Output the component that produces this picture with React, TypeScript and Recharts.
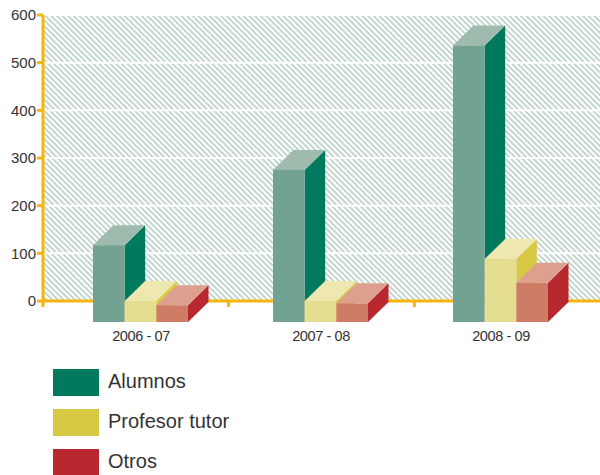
import React from 'react';
import { BarChart, Bar, XAxis, YAxis, CartesianGrid } from 'recharts';

const categories = ['2006 - 07', '2007 - 08', '2008 - 09'];
const alumnos = [159, 317, 578];
const profesorTutor = [42, 42, 130];
const otros = [33, 37, 80];
const yTicks = [0, 100, 200, 300, 400, 500, 600];
const sectionStarts = [0, 1, 2];

const seriesNames = ['Alumnos', 'Profesor tutor', 'Otros'];
const sideColors = ['#007a5e', '#d8c945', '#b8282e'];
const frontColors = ['#72a291', '#e5dd8f', '#cf7c66'];
const topColors = ['#9fbbae', '#eee7b0', '#dea08e'];

const AXIS_COLOR = '#f5b50f';
const DEPTH_X = 20.5;
const DEPTH_Y = 20;
const BELOW_AXIS = 21;

const data = categories.map((name, i) => ({
  name,
  section: sectionStarts[i],
  alumnos: alumnos[i],
  profesorTutor: profesorTutor[i],
  otros: otros[i],
}));

// 3D box: the scale value is the top of the back face, the front face hangs below the axis
const boxShape = (seriesIndex: number) => (props: any) => {
  const { x, y, width, height } = props;
  const frontTop = y + DEPTH_Y;
  const bottom = y + height + BELOW_AXIS;
  const right = x + width;
  return (
    <g>
      <polygon
        points={`${right},${frontTop} ${right + DEPTH_X},${y} ${right + DEPTH_X},${bottom - DEPTH_Y} ${right},${bottom}`}
        fill={sideColors[seriesIndex]}
      />
      <polygon
        points={`${x},${frontTop} ${x + DEPTH_X},${y} ${right + DEPTH_X},${y} ${right},${frontTop}`}
        fill={topColors[seriesIndex]}
      />
      <rect x={x} y={frontTop} width={width} height={bottom - frontTop} fill={frontColors[seriesIndex]} />
    </g>
  );
};

const noLabel = () => <g />;

export default function App() {
  return (
    <div style={{ position: 'absolute', left: 0, top: 0, width: 600, height: 475, background: '#fff', fontFamily: '"Liberation Sans", sans-serif' }}>
      <BarChart
        width={600}
        height={345}
        data={data}
        margin={{ top: 15, right: 0, bottom: 0, left: 0 }}
        barSize={31.67}
        barGap={0}
      >
        <defs>
          <pattern id="hatch" width="4" height="4" patternUnits="userSpaceOnUse" patternTransform="rotate(-45)">
            <rect width="4" height="4" fill="#ffffff" />
            <rect width="2" height="4" fill="#c3d6ce" />
          </pattern>
        </defs>
        <CartesianGrid vertical={false} stroke="#ffffff" strokeWidth={2} fill="url(#hatch)" />
        <YAxis
          width={43}
          domain={[0, 600]}
          ticks={yTicks}
          interval={0}
          tick={{ fontSize: 15, fill: '#333333' }}
          tickLine={{ stroke: AXIS_COLOR, strokeWidth: 3 }}
          axisLine={{ stroke: AXIS_COLOR, strokeWidth: 3 }}
          tickSize={6}
          tickMargin={1}
        />
        {/* default id so this one sits right on the plot edge, labels stack below it */}
        <XAxis
          type="number"
          dataKey="section"
          domain={[0, 3]}
          allowDataOverflow
          ticks={sectionStarts}
          interval={0}
          height={6}
          tick={noLabel}
          tickLine={{ stroke: AXIS_COLOR, strokeWidth: 3 }}
          axisLine={{ stroke: AXIS_COLOR, strokeWidth: 3 }}
          tickSize={6}
          zIndex={100}
        />
        <XAxis
          xAxisId="labels"
          dataKey="name"
          height={38}
          padding={{ left: 8, right: 9 }}
          axisLine={false}
          tickLine={false}
          tick={{ fontSize: 14.5, fill: '#333333', letterSpacing: -0.4 }}
          tickMargin={24}
          tickSize={0}
        />
        <Bar xAxisId="labels" dataKey="alumnos" fill={sideColors[0]} shape={boxShape(0)} isAnimationActive={false} />
        <Bar xAxisId="labels" dataKey="profesorTutor" fill={sideColors[1]} shape={boxShape(1)} isAnimationActive={false} />
        <Bar xAxisId="labels" dataKey="otros" fill={sideColors[2]} shape={boxShape(2)} isAnimationActive={false} />
      </BarChart>
      {seriesNames.map((name, i) => (
        <div key={name} style={{ position: 'absolute', left: 53, top: 369 + i * 40, height: 27, display: 'flex', alignItems: 'center' }}>
          <div style={{ width: 46, height: 27, background: sideColors[i], marginRight: 9 }} />
          <span style={{ fontSize: 20, color: '#333333', position: 'relative', top: -1 }}>{name}</span>
        </div>
      ))}
    </div>
  );
}
